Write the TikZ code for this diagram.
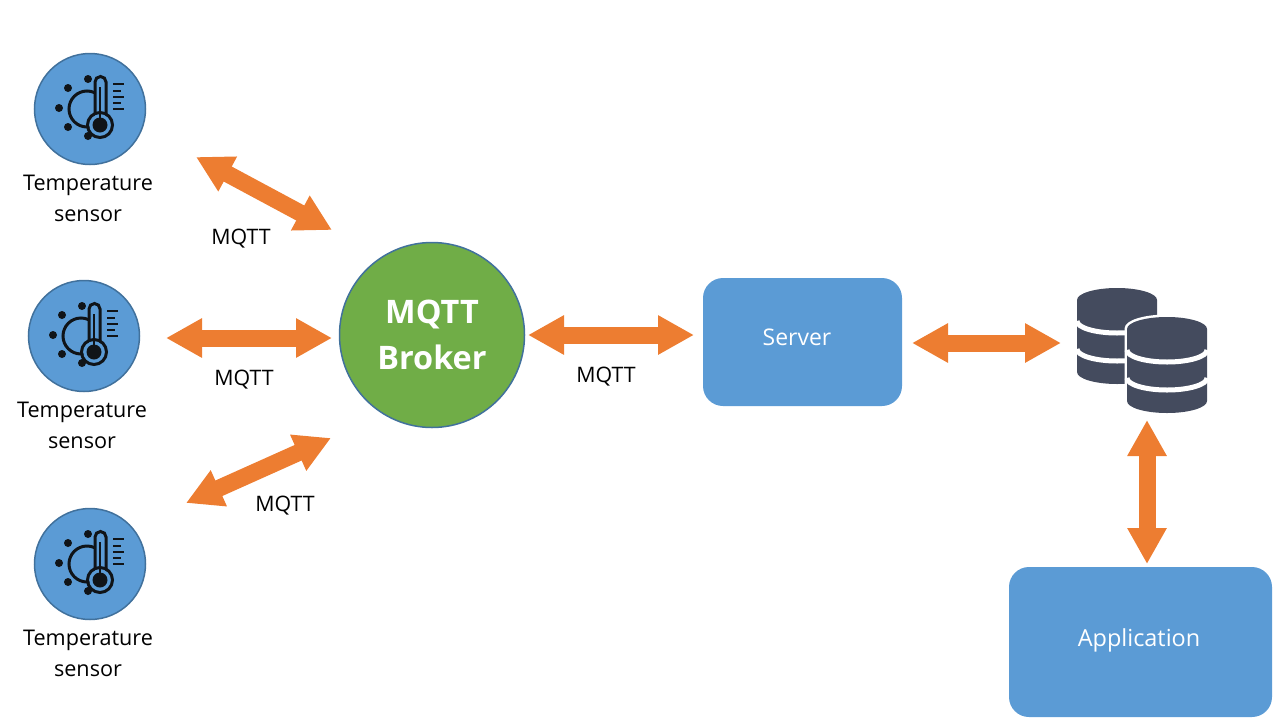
\documentclass[tikz,border=0pt]{standalone}
\usepackage{fontspec}
\setmainfont{Open Sans}
\usetikzlibrary{arrows.meta, positioning}
\def\px{0.75pt}
\definecolor{boxblue}{HTML}{5B9BD5}
\definecolor{edgeblue}{HTML}{41719C}
\definecolor{brokergreen}{HTML}{70AD47}
\definecolor{linkorange}{HTML}{ED7D31}
\definecolor{iconblack}{HTML}{101418}
\definecolor{dbslate}{HTML}{444B5E}
\tikzstyle{sensor} = [circle, minimum size=111*\px, inner sep=0pt, draw=edgeblue, line width=1.5*\px, fill=boxblue]
\tikzstyle{broker} = [circle, minimum size=185*\px, inner sep=0pt, draw=edgeblue, line width=1.5*\px, fill=brokergreen, text=white, align=center, font=\fontsize{24.3pt}{35pt}\selectfont\bfseries]
\tikzstyle{block} = [rectangle, rounded corners=15pt, inner sep=0pt, fill=boxblue]
\tikzstyle{blocktext} = [text=white, inner sep=0pt]
\tikzstyle{caption} = [align=center, font=\fontsize{16.2pt}{23.3pt}\selectfont, text=black]
\tikzstyle{proto} = [font=\fontsize{16pt}{20pt}\selectfont, text=black]
\tikzstyle{link} = [draw=linkorange, line width=17*\px, {Triangle[length=36*\px, width=37*\px, fill=linkorange]}-{Triangle[length=36*\px, width=37*\px, fill=linkorange]}]
\tikzset{
  thermoicon/.pic={
    \draw [iconblack, line width=3*\px] (-3,0) circle (18*\px);
    \foreach \a/\b in {-2/-30, -22/-21, -31/-1, -22/18, -2/27}
      \fill [iconblack] (\a,\b) circle (4*\px);
    \fill [boxblue] (4,-28) rectangle (17,16);
    \draw [iconblack, line width=3*\px] (5,22) -- (5,-27) arc (180:360:5.5) -- (16,22);
    \fill [boxblue] (10,16) circle (11*\px);
    \draw [iconblack, line width=3*\px] (10,16) circle (12.5*\px);
    \fill [iconblack] (10,16) circle (7.5*\px);
    \draw [iconblack, line width=2*\px] (10,-22) -- (10,10);
    \foreach \y/\w in {-25/11, -18/8, -12/11, -6/8, 0/11}
      \draw [iconblack, line width=2.2*\px] (23,\y) -- ++(\w,0);
  },
  dbcan/.pic={
    \fill [dbslate] (-40,-36) arc (180:360:40 and 12) -- (40,36) arc (0:180:40 and 12) -- cycle;
    \foreach \y in {-15,13}
      \draw [white, line width=5*\px] (-40,\y) arc (180:0:40 and 12);
  }
}
\begin{document}
\begin{tikzpicture}[x=\px, y=-\px]
  \useasboundingbox (0,0) rectangle (1280,725);

  \node (sen1) [sensor] at (90,109) {};
  \node (sen2) [sensor] at (84,336) {};
  \node (sen3) [sensor] at (90,564) {};
  \pic at (sen1) {thermoicon};
  \pic at (sen2) {thermoicon};
  \pic at (sen3) {thermoicon};
  \node (cap1) [caption, below=4pt of sen1, xshift=-1.5pt] {Temperature\\sensor};
  \node (cap2) [caption, below=4pt of sen2, xshift=-1.5pt] {Temperature\\sensor};
  \node (cap3) [caption, below=4pt of sen3, xshift=-1.5pt] {Temperature\\sensor};

  \node (brk) [broker] at (432,335) {MQTT\\Broker};
  \node (srv) [block, minimum width=199*\px, minimum height=128*\px] at (802.5,342) {};
  \node (srvtxt) [blocktext, font=\fontsize{17.2pt}{20pt}\selectfont] at (797,337) {Server};
  \node (app) [block, minimum width=263*\px, minimum height=150*\px] at (1140.5,642) {};
  \node (apptxt) [blocktext, font=\fontsize{17.6pt}{20pt}\selectfont] at (1139,640) {Application};

  % database
  \pic at (1117,336) {dbcan};
  \draw [white, line width=5*\px] (1127,341) -- (1127,402) arc (180:0:40 and 12) -- (1207,329) arc (0:-180:40 and 12) -- (1127,341);
  \pic at (1167,365) {dbcan};
  \coordinate (dbl) at (1061,343);
  \coordinate (dbb) at (1147,420);

  \coordinate (a1) at (196,157);
  \coordinate (b1) at (332,230);
  \coordinate (a2) at (166,338);
  \coordinate (b2) at (332,338);
  \coordinate (a3) at (186,503);
  \coordinate (b3) at (331,438);
  \coordinate (b4) at (528,335);
  \coordinate (c4) at (694,335);
  \coordinate (c5) at (912,343);
  \coordinate (c6) at (1147,564);

  \draw [link] (a1) -- (b1);
  \draw [link] (a2) -- (b2);
  \draw [link] (a3) -- (b3);
  \draw [link] (b4) -- (c4);
  \draw [link] (c5) -- (dbl);
  \draw [link] (dbb) -- (c6);

  \node (lbl1) [proto] at (241,239) {MQTT};
  \node (lbl2) [proto] at (244,380) {MQTT};
  \node (lbl3) [proto] at (285,506) {MQTT};
  \node (lbl4) [proto] at (606,377) {MQTT};
\end{tikzpicture}
\end{document}
